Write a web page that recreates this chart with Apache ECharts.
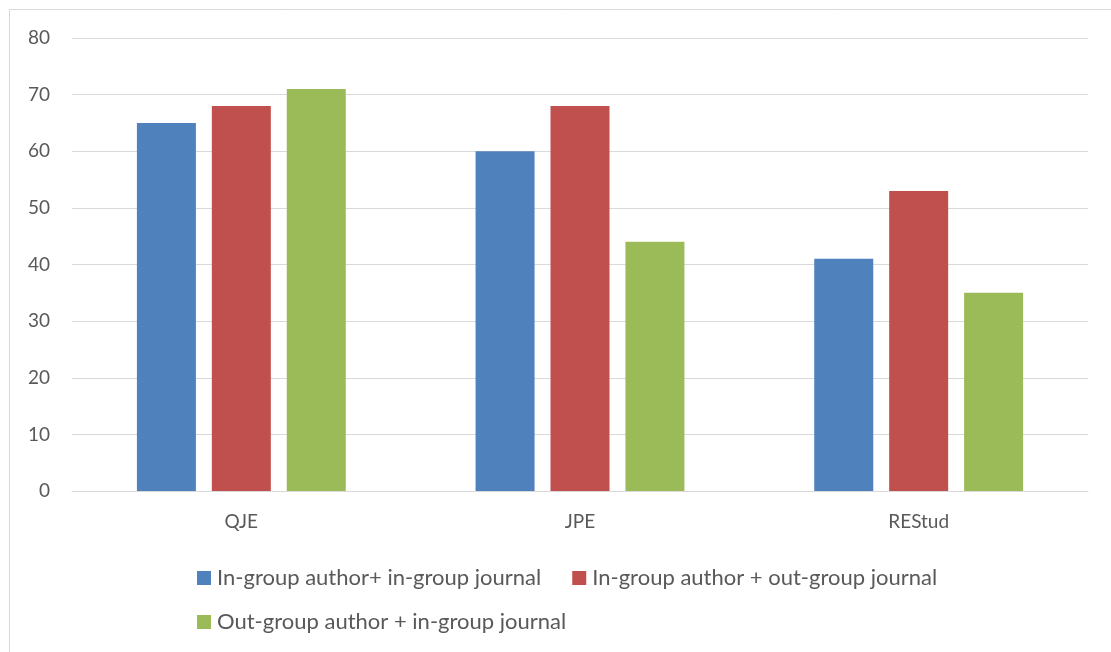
<!DOCTYPE html>
<html><head><meta charset="utf-8">
<script src="https://cdn.jsdelivr.net/npm/echarts@6/dist/echarts.min.js"></script>
<style>html,body{margin:0;padding:0;background:#fff}#c{width:1111px;height:652px}</style>
</head><body><div id="c"></div>
<script>
const categories = ['QJE', 'JPE', 'REStud'];
const seriesNames = ['In-group author+ in-group journal', 'In-group author + out-group journal', 'Out-group author + in-group journal'];
const inInValues = [65, 60, 41];
const inOutValues = [68, 68, 53];
const outInValues = [71, 44, 35];
const yTicks = [0, 10, 20, 30, 40, 50, 60, 70, 80];
const colors = ['#4F81BD', '#C0504D', '#9BBB59'];
const font = 'Lato, "Open Sans", sans-serif';

const chart = echarts.init(document.getElementById('c'), null, {renderer: 'canvas'});
const lt = {fontFamily: font, fontSize: 22, color: '#595959', padding: [0, 0, 0, 1]};
chart.setOption({
  animation: false,
  graphic: [{type: 'rect', shape: {x: 9.5, y: 9.5, width: 1120, height: 660}, style: {fill: 'none', stroke: '#D9D9D9', lineWidth: 1}, silent: true}],
  grid: {left: 72, right: 23, top: 38, bottom: 161},
  legend: [
    {data: [seriesNames[0], seriesNames[1]], top: 562, left: 192, itemWidth: 14, itemHeight: 14, itemGap: 31, icon: 'rect', textStyle: lt},
    {data: [seriesNames[2]], top: 606, left: 192, itemWidth: 14, itemHeight: 14, icon: 'rect', textStyle: lt}
  ],
  xAxis: {type: 'category', data: categories,
    axisLine: {lineStyle: {color: '#D9D9D9', width: 1}}, axisTick: {show: false},
    axisLabel: {fontFamily: font, fontSize: 19, color: '#595959', margin: 21}},
  yAxis: {type: 'value', min: yTicks[0], max: yTicks[yTicks.length - 1], interval: 10,
    axisLine: {show: false}, axisTick: {show: false},
    splitLine: {lineStyle: {color: '#D9D9D9', width: 1}},
    axisLabel: {fontFamily: font, fontSize: 19, color: '#595959', margin: 22}},
  series: [
    {name: seriesNames[0], type: 'bar', data: inInValues, itemStyle: {color: colors[0]}, barWidth: 59, barGap: '27%'},
    {name: seriesNames[1], type: 'bar', data: inOutValues, itemStyle: {color: colors[1]}, barWidth: 59, barGap: '27%'},
    {name: seriesNames[2], type: 'bar', data: outInValues, itemStyle: {color: colors[2]}, barWidth: 59, barGap: '27%'}
  ]
});
</script></body></html>
